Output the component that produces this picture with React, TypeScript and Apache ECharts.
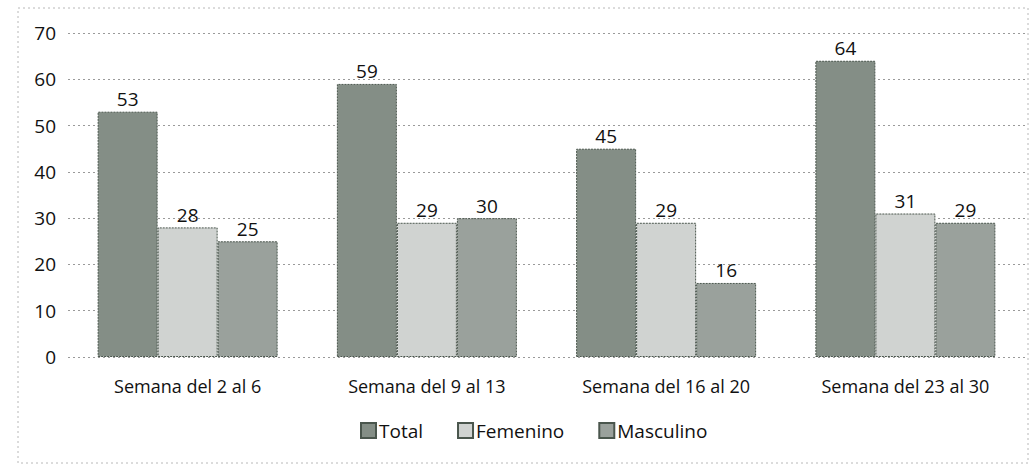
import React, { useEffect, useRef } from "react";
import * as echarts from "echarts";

const categories = ["Semana del 2 al 6", "Semana del 9 al 13", "Semana del 16 al 20", "Semana del 23 al 30"];
const totalValues = [53, 59, 45, 64];
const femeninoValues = [28, 29, 29, 31];
const masculinoValues = [25, 30, 16, 29];
const seriesNames = ["Total", "Femenino", "Masculino"];
const seriesColors = ["#848e86", "#d0d3d1", "#9aa19c"];

export default function App() {
  const ref = useRef<HTMLDivElement>(null);
  useEffect(() => {
    if (!ref.current) return;
    const chart = echarts.init(ref.current, null, { renderer: "svg" });
    const font = "'Open Sans', 'Noto Sans', sans-serif";
    const data = [totalValues, femeninoValues, masculinoValues];
    chart.setOption({
      animation: false,
      backgroundColor: "#ffffff",
      textStyle: { fontFamily: font },
      graphic: [
        {
          type: "rect",
          shape: { x: 18, y: 8, width: 1010, height: 455 },
          style: { fill: "none", stroke: "#b8b8b8", lineWidth: 1, lineDash: [2, 3] },
          silent: true,
        },
      ],
      grid: { left: 68, right: 8, top: 33, bottom: 118 },
      legend: {
        data: seriesNames,
        bottom: 30,
        left: 355,
        itemWidth: 15,
        itemHeight: 15,
        itemGap: 34,
        icon: "rect",
        textStyle: { fontSize: 19, color: "#111", fontFamily: font, padding: [0, 0, 0, -2] },
      },
      xAxis: {
        type: "category",
        data: categories,
        axisLine: { show: false },
        axisTick: { show: false },
        axisLabel: { fontSize: 18, color: "#111", margin: 20, fontFamily: font },
      },
      yAxis: {
        type: "value",
        min: 0,
        max: 70,
        interval: 10,
        axisLine: { show: false },
        axisTick: { show: false },
        axisLabel: { fontSize: 19, color: "#111", margin: 12, fontFamily: font },
        splitLine: { lineStyle: { color: "#9a9a9a", type: [2, 3], width: 1 } },
      },
      series: seriesNames.map((name, i) => ({
        name,
        type: "bar",
        data: data[i],
        barWidth: 60,
        barGap: "0%",
        barCategoryGap: "25%",
        itemStyle: { color: seriesColors[i], borderColor: "#4a564d", borderWidth: 1, borderType: [2, 1] },
        label: { show: true, position: "top", fontSize: 19, color: "#111", distance: 3, fontFamily: font },
      })),
    });
    return () => chart.dispose();
  }, []);
  return <div ref={ref} style={{ position: "fixed", left: 0, top: 0, width: 1033, height: 475 }} />;
}
